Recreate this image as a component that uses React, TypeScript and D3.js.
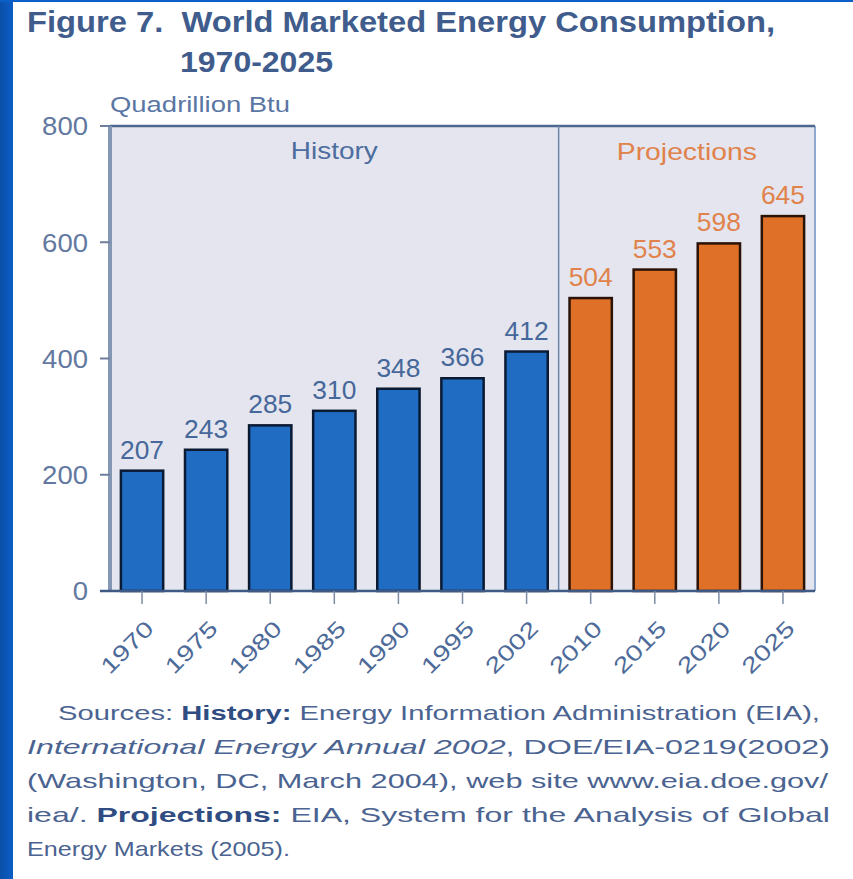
import React from "react";
import * as d3 from "d3";

const years = ["1970", "1975", "1980", "1985", "1990", "1995", "2002", "2010", "2015", "2020", "2025"];
const values = [207, 243, 285, 310, 348, 366, 412, 504, 553, 598, 645];
const isProjection = [false, false, false, false, false, false, false, true, true, true, true];
const yTicks = [0, 200, 400, 600, 800];

const W = 853;
const H = 879;
const plot = { left: 110, right: 815, top: 126, bottom: 591 };

const FONT = "'Liberation Sans', Arial, Helvetica, sans-serif";

export default function App() {
  const x = d3.scaleBand<string>().domain(years).range([plot.left, plot.right]).paddingInner(0.34).paddingOuter(0.17);
  const y = d3.scaleLinear().domain([0, 800]).range([plot.bottom, plot.top]);
  const bw = x.bandwidth();
  const divX = (x("2002")! + bw / 2 + x("2010")! + bw / 2) / 2;

  const blue = "#1f6cc2";
  const orange = "#de7127";
  const textBlue = "#46679a";
  const textOrange = "#e0824a";
  const histCenter = (plot.left + divX) / 2;
  const projCenter = (divX + plot.right) / 2;

  return (
    <div style={{ position: "absolute", left: 0, top: 0 }}>
      <svg width={W} height={H} style={{ display: "block" }}>
        <defs>
          <linearGradient id="edge" x1="0" y1="0" x2="1" y2="0">
            <stop offset="0" stopColor="#0b4fa8" />
            <stop offset="1" stopColor="#0a5ec6" />
          </linearGradient>
        </defs>
        <rect x={0} y={0} width={W} height={H} fill="#ffffff" />
        <rect x={0} y={0} width={13} height={H} fill="url(#edge)" />
        <rect x={0} y={0} width={W} height={2} fill="#0a5ec6" />

        {/* Title */}
        <text x={27} y={32} fontFamily={FONT} fontWeight="bold" fontSize={29} fill="#3f5c8c" textLength={748} lengthAdjust="spacingAndGlyphs">
          Figure 7.{"\u00A0\u00A0"}World Marketed Energy Consumption,
        </text>
        <text x={180} y={72} fontFamily={FONT} fontWeight="bold" fontSize={29} fill="#3f5c8c" textLength={153} lengthAdjust="spacingAndGlyphs">
          1970-2025
        </text>
        <text x={110} y={112} fontFamily={FONT} fontSize={22} fill="#5a76a3" textLength={180} lengthAdjust="spacingAndGlyphs">
          Quadrillion Btu
        </text>

        {/* Plot background */}
        <rect x={plot.left} y={plot.top} width={plot.right - plot.left} height={plot.bottom - plot.top} fill="#e4e5ee" />
        <rect x={plot.right - 1} y={plot.top} width={2} height={plot.bottom - plot.top} fill="#8fa9cf" />
        <line x1={plot.left} x2={plot.right} y1={plot.top} y2={plot.top} stroke="#4d6890" strokeWidth={2.5} />
        <line x1={divX} x2={divX} y1={plot.top} y2={plot.bottom} stroke="#6c86ab" strokeWidth={1.5} />

        <text x={histCenter} y={159} textAnchor="middle" fontFamily={FONT} fontSize={24} fill="#4d6da0" textLength={87} lengthAdjust="spacingAndGlyphs">History</text>
        <text x={projCenter} y={160} textAnchor="middle" fontFamily={FONT} fontSize={24} fill={textOrange} textLength={140} lengthAdjust="spacingAndGlyphs">Projections</text>

        {/* Bars */}
        {years.map((yr, i) => (
          <g key={yr}>
            <rect
              x={x(yr)!}
              y={y(values[i])}
              width={bw}
              height={y(0) - y(values[i])}
              fill={isProjection[i] ? orange : blue}
              stroke={isProjection[i] ? "#2a1206" : "#0b1a33"}
              strokeWidth={2.5}
            />
            <text
              x={x(yr)! + bw / 2}
              y={y(values[i]) - 12}
              textAnchor="middle"
              fontFamily={FONT}
              fontSize={26}
              textLength={44}
              lengthAdjust="spacingAndGlyphs"
              fill={isProjection[i] ? textOrange : textBlue}
            >
              {values[i]}
            </text>
          </g>
        ))}

        {/* Y axis */}
        <line x1={plot.left} x2={plot.left} y1={plot.top} y2={plot.bottom} stroke="#8396b4" strokeWidth={4} />
        {yTicks.map((t) => (
          <g key={t}>
            <line x1={plot.left - 10} x2={plot.left} y1={y(t)} y2={y(t)} stroke="#6d7f9c" strokeWidth={2} />
            <text
              x={88}
              y={y(t)}
              dy="0.36em"
              textAnchor="end"
              fontFamily={FONT}
              fontSize={26}
              fill="#6278a0"
              textLength={String(t).length * 15.3}
              lengthAdjust="spacingAndGlyphs"
            >
              {t}
            </text>
          </g>
        ))}

        {/* X axis */}
        <line x1={plot.left - 10} x2={plot.right} y1={plot.bottom} y2={plot.bottom} stroke="#3e5a85" strokeWidth={2.5} />
        {years.map((yr) => {
          const cx = x(yr)! + bw / 2;
          return (
            <g key={"t" + yr}>
              <line x1={cx} x2={cx} y1={plot.bottom} y2={plot.bottom + 13} stroke="#7d8ca6" strokeWidth={1.5} />
              <text
                transform={`translate(${cx + 13},${630}) rotate(-45)`}
                textAnchor="end"
                fontFamily={FONT}
                fontSize={22}
                fill="#4d6a99"
                textLength={64}
                lengthAdjust="spacingAndGlyphs"
              >
                {yr}
              </text>
            </g>
          );
        })}

        {/* Sources */}
        <g fontFamily={FONT} fontSize={21} fill="#4a6390">
          <text x={58} y={720} textLength={762} lengthAdjust="spacingAndGlyphs">
            Sources: <tspan fontWeight="bold" fill="#2f4d82">History:</tspan> Energy Information Administration (EIA),
          </text>
          <text x={27} y={754} textLength={803} lengthAdjust="spacingAndGlyphs">
            <tspan fontStyle="italic">International</tspan>{"   "}<tspan fontStyle="italic">Energy</tspan>{"   "}<tspan fontStyle="italic">Annual</tspan>{"   "}<tspan fontStyle="italic">2002</tspan>,{"   "}DOE/EIA-0219(2002)
          </text>
          <text x={27} y={788} textLength={801} lengthAdjust="spacingAndGlyphs">
            (Washington, DC, March 2004), web site www.eia.doe.gov/
          </text>
          <text x={27} y={822} textLength={803} lengthAdjust="spacingAndGlyphs">
            iea/. <tspan fontWeight="bold" fill="#2f4d82">Projections:</tspan> EIA, System{"  "}for{"  "}the{"  "}Analysis{"  "}of{"  "}Global
          </text>
          <text x={27} y={856} textLength={263} lengthAdjust="spacingAndGlyphs">Energy Markets (2005).</text>
        </g>
      </svg>
    </div>
  );
}
